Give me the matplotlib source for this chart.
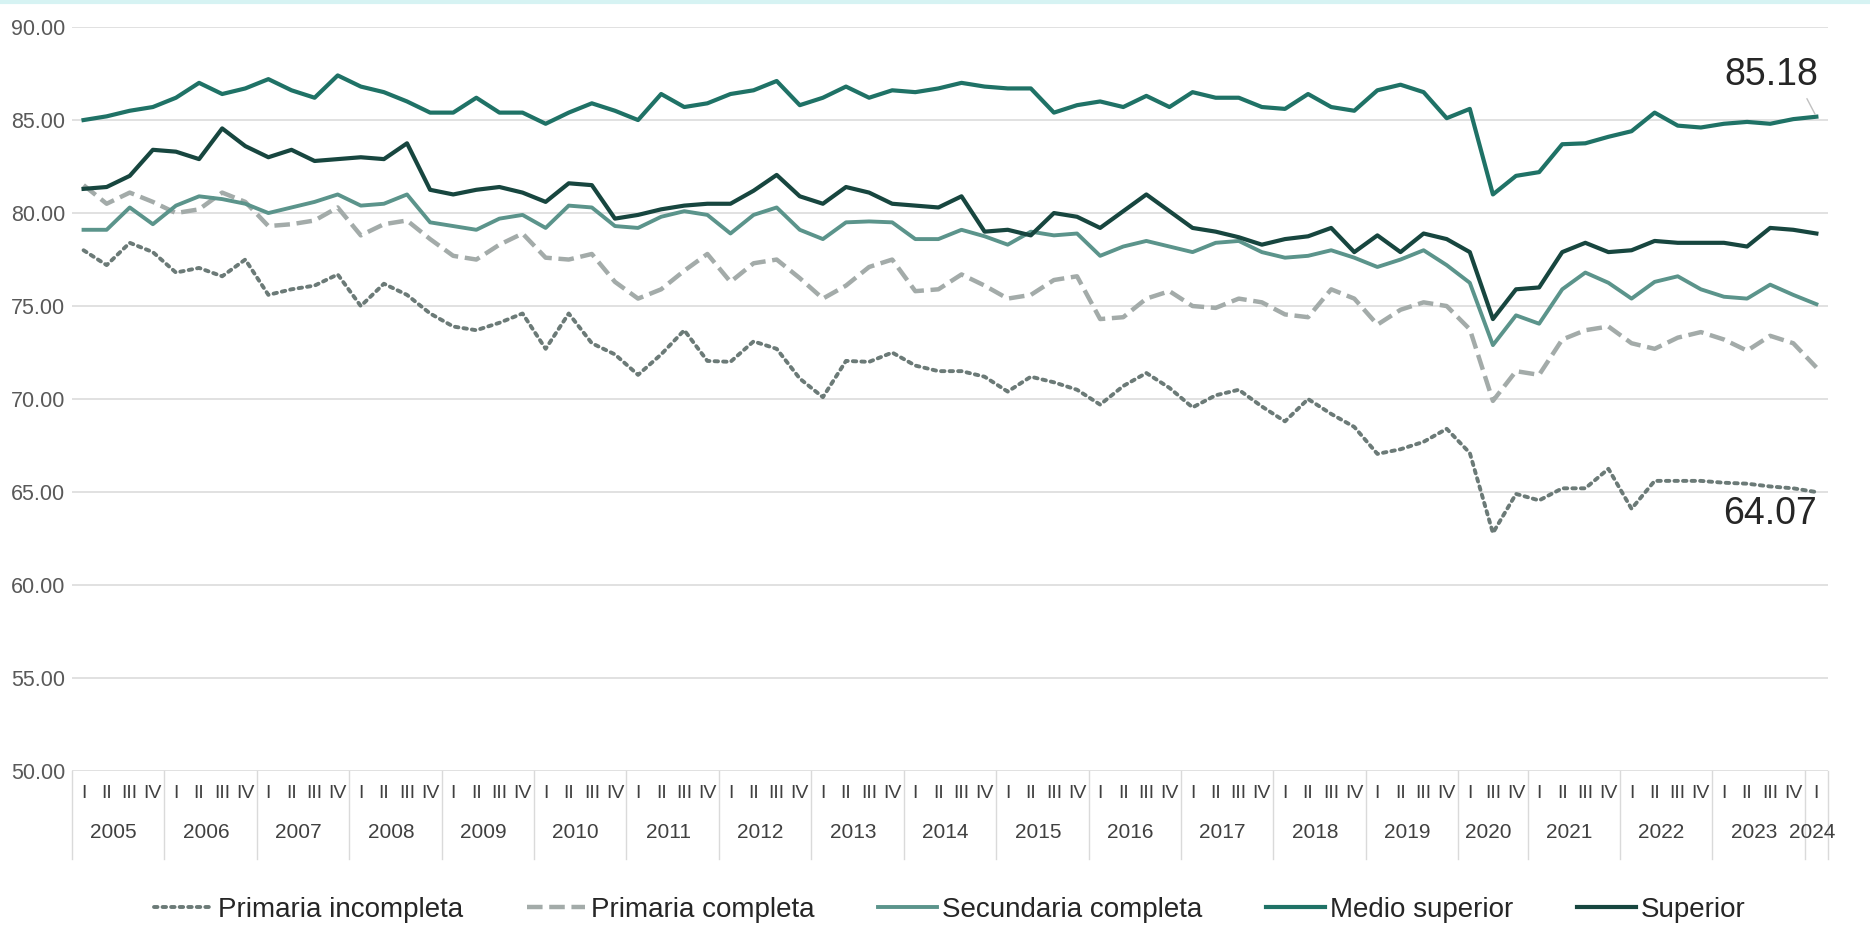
import matplotlib
matplotlib.use("Agg")
import matplotlib.pyplot as plt
import matplotlib.transforms as mtransforms
from matplotlib.ticker import FormatStrFormatter

plt.rcParams['font.family'] = ['Liberation Sans', 'DejaVu Sans']

# Categories: quarters 2005-I .. 2024-I (2020-II not reported)
years = [str(y) for y in range(2005, 2025)]
quarter_names = ["I", "II", "III", "IV"]
special_quarters = {"2020": ["I", "III", "IV"], "2024": ["I"]}

primaria_incompleta = [
    78.0, 77.2, 78.4, 77.9, 76.8, 77.05, 76.6, 77.5, 75.6, 75.9, 76.1, 76.7,
    75.0, 76.2, 75.6, 74.6, 73.9, 73.7, 74.1, 74.6, 72.7, 74.6, 73.0, 72.4,
    71.3, 72.4, 73.7, 72.05, 72.0, 73.1, 72.7, 71.1, 70.1, 72.05, 72.0, 72.5,
    71.8, 71.5, 71.5, 71.2, 70.4, 71.2, 70.9, 70.5, 69.7, 70.7, 71.4, 70.6,
    69.55, 70.2, 70.5, 69.6, 68.8, 70.0, 69.2, 68.5, 67.05, 67.3, 67.7, 68.4,
    67.1, 62.8, 64.9,
    64.55, 65.2, 65.2, 66.25, 64.1, 65.6, 65.6, 65.6, 65.5, 65.45, 65.3, 65.2,
    65.0,
]
primaria_completa = [
    81.5, 80.5, 81.1, 80.6, 80.0, 80.2, 81.1, 80.6, 79.3, 79.4, 79.6, 80.3,
    78.8, 79.4, 79.6, 78.6, 77.7, 77.5, 78.3, 78.9, 77.6, 77.5, 77.8, 76.3,
    75.4, 75.9, 76.9, 77.8, 76.3, 77.3, 77.5, 76.5, 75.4, 76.1, 77.1, 77.5,
    75.8, 75.9, 76.7, 76.1, 75.4, 75.6, 76.4, 76.6, 74.3, 74.4, 75.4, 75.8,
    75.0, 74.9, 75.4, 75.2, 74.55, 74.4, 75.9, 75.4, 74.0, 74.8, 75.2, 75.0,
    73.75, 69.9, 71.5,
    71.3, 73.2, 73.7, 73.9, 73.0, 72.7, 73.3, 73.6, 73.2, 72.6, 73.4, 73.0,
    71.7,
]
secundaria_completa = [
    79.1, 79.1, 80.3, 79.4, 80.4, 80.9, 80.75, 80.5, 80.0, 80.3, 80.6, 81.0,
    80.4, 80.5, 81.0, 79.5, 79.3, 79.1, 79.7, 79.9, 79.2, 80.4, 80.3, 79.3,
    79.2, 79.8, 80.1, 79.9, 78.9, 79.9, 80.3, 79.1, 78.6, 79.5, 79.55, 79.5,
    78.6, 78.6, 79.1, 78.75, 78.3, 79.0, 78.8, 78.9, 77.7, 78.2, 78.5, 78.2,
    77.9, 78.4, 78.5, 77.9, 77.6, 77.7, 78.0, 77.6, 77.1, 77.5, 78.0, 77.2,
    76.25, 72.9, 74.5,
    74.05, 75.9, 76.8, 76.25, 75.4, 76.3, 76.6, 75.9, 75.5, 75.4, 76.15, 75.6,
    75.1,
]
medio_superior = [
    85.0, 85.2, 85.5, 85.7, 86.2, 87.0, 86.4, 86.7, 87.2, 86.6, 86.2, 87.4,
    86.8, 86.5, 86.0, 85.4, 85.4, 86.2, 85.4, 85.4, 84.8, 85.4, 85.9, 85.5,
    85.0, 86.4, 85.7, 85.9, 86.4, 86.6, 87.1, 85.8, 86.2, 86.8, 86.2, 86.6,
    86.5, 86.7, 87.0, 86.8, 86.7, 86.7, 85.4, 85.8, 86.0, 85.7, 86.3, 85.7,
    86.5, 86.2, 86.2, 85.7, 85.6, 86.4, 85.7, 85.5, 86.6, 86.9, 86.5, 85.1,
    85.6, 81.0, 82.0,
    82.2, 83.7, 83.75, 84.1, 84.4, 85.4, 84.7, 84.6, 84.8, 84.9, 84.8, 85.05,
    85.18,
]
superior = [
    81.3, 81.4, 82.0, 83.4, 83.3, 82.9, 84.55, 83.6, 83.0, 83.4, 82.8, 82.9,
    83.0, 82.9, 83.75, 81.25, 81.0, 81.25, 81.4, 81.1, 80.6, 81.6, 81.5, 79.7,
    79.9, 80.2, 80.4, 80.5, 80.5, 81.2, 82.05, 80.9, 80.5, 81.4, 81.1, 80.5,
    80.4, 80.3, 80.9, 79.0, 79.1, 78.8, 80.0, 79.8, 79.2, 80.1, 81.0, 80.1,
    79.2, 79.0, 78.7, 78.3, 78.6, 78.75, 79.2, 77.9, 78.8, 77.9, 78.9, 78.6,
    77.9, 74.3, 75.9,
    76.0, 77.9, 78.4, 77.9, 78.0, 78.5, 78.4, 78.4, 78.4, 78.2, 79.2, 79.1,
    78.9,
]

# build the two-level category axis
quarter_labels = []
year_groups = []
for y in years:
    qs = special_quarters.get(y, quarter_names)
    start = len(quarter_labels)
    quarter_labels.extend(qs)
    year_groups.append((y, start, len(quarter_labels) - 1))
x = list(range(len(quarter_labels)))

fig = plt.figure(figsize=(18.7, 9.33), dpi=100)
ax = fig.add_axes([0.0385, 0.1736, 0.939, 0.7974])

# faint cyan band along the top edge of the picture
fig.add_artist(plt.Line2D([0, 1], [0.998, 0.998], transform=fig.transFigure,
                          color="#d6f3f3", lw=3))

ax.plot(x, primaria_incompleta, color="#6b7a77", lw=2.8, linestyle=(0, (0.9, 1.3)),
        dash_capstyle="round", label="Primaria incompleta")
ax.plot(x, primaria_completa, color="#a3aba9", lw=3.2, linestyle=(0, (3.5, 1.5)),
        label="Primaria completa")
ax.plot(x, secundaria_completa, color="#5b948b", lw=2.8, label="Secundaria completa")
ax.plot(x, medio_superior, color="#1f7266", lw=3.0, label="Medio superior")
ax.plot(x, superior, color="#17463f", lw=3.0, label="Superior")

ax.set_xlim(-0.5, len(x) - 0.5)
ax.set_ylim(50, 90)
ax.set_yticks(range(50, 91, 5))
ax.yaxis.set_major_formatter(FormatStrFormatter("%.2f"))
ax.tick_params(axis="y", length=0, pad=5, labelsize=15.5, labelcolor="#595959")
ax.set_xticks([])
ax.grid(axis="y", color="#dedede", lw=1.3)
ax.set_axisbelow(True)
for s in ax.spines.values():
    s.set_visible(False)

# quarter and year labels under the axis
trans = mtransforms.blended_transform_factory(ax.transData, ax.transAxes)
for i, q in enumerate(quarter_labels):
    ax.text(i, -0.03, q, transform=trans, ha="center", va="center",
            fontsize=14, color="#404040")
for name, a, b in year_groups:
    ax.text((a + b) / 2 - 0.2, -0.083, name, transform=trans, ha="center",
            va="center", fontsize=15, color="#404040")
    ax.plot([a - 0.5, a - 0.5], [0, -0.118], transform=trans, color="#dadada",
            lw=1, clip_on=False)
ax.plot([len(x) - 0.5, len(x) - 0.5], [0, -0.118], transform=trans,
        color="#dadada", lw=1, clip_on=False)

# end-value labels
ax.annotate(f"{medio_superior[-1]:.2f}", xy=(x[-1], medio_superior[-1]),
            xytext=(73.05, 87.4), ha="center", va="center", fontsize=27,
            color="#262626",
            arrowprops=dict(arrowstyle="-", color="#c0c0c0", lw=1, relpos=(0.85, 0)))
ax.text(73.0, 63.8, "64.07", ha="center", va="center", fontsize=27, color="#262626")

ax.legend(loc="center", bbox_to_anchor=(0.5, -0.187), ncol=5, frameon=False,
          fontsize=20, handlelength=2.1, handletextpad=0.2, columnspacing=2.3,
          labelcolor="#262626")

fig.savefig("out.png", dpi=100, facecolor="white")
